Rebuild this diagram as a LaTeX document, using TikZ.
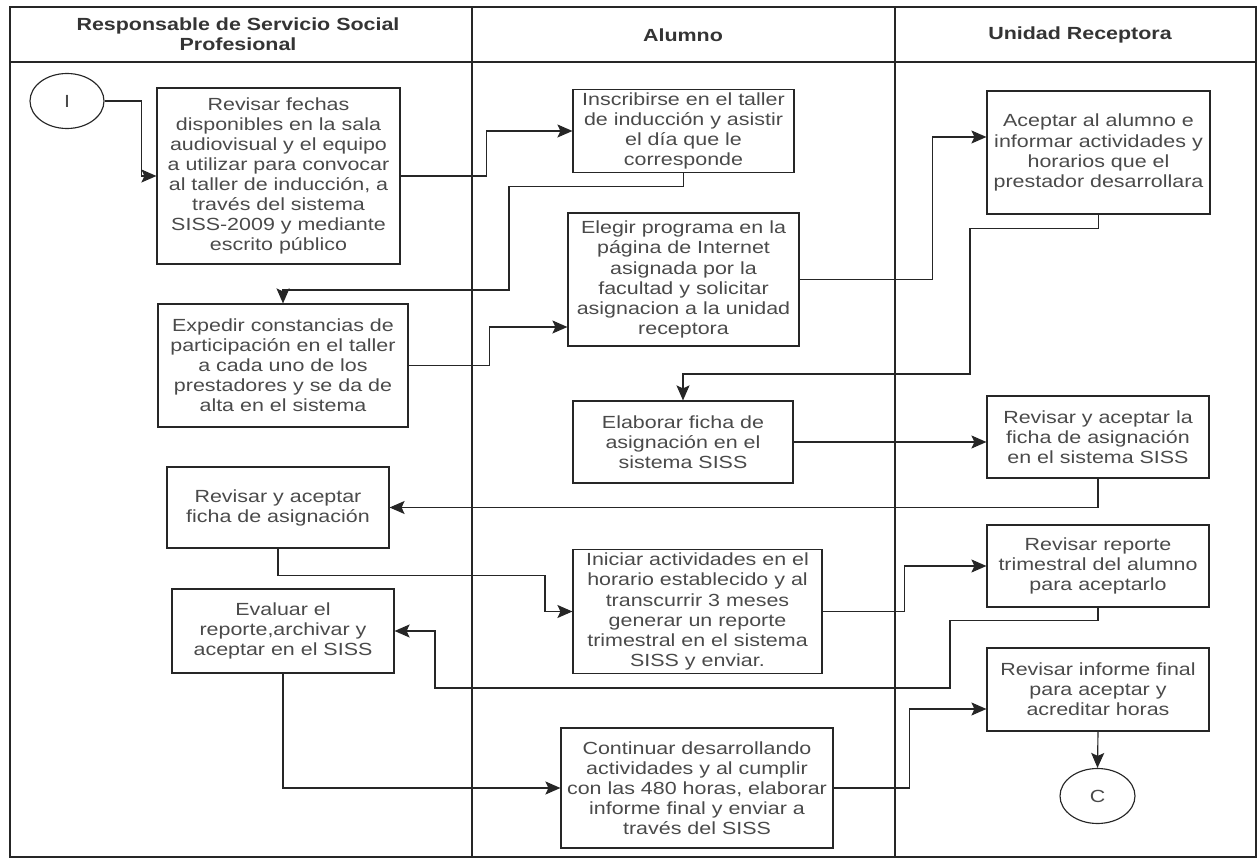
\documentclass[tikz,border=0pt]{standalone}
\usepackage{fontspec}
\setmainfont{Liberation Sans}[FakeStretch=1.22]
\usetikzlibrary{arrows.meta,shapes.geometric}
\definecolor{sspText}{HTML}{4A4A4A}
\definecolor{sspLine}{HTML}{262626}
\tikzset{
  sspBox/.style={draw=sspLine, line width=0.65pt, align=center, text=sspText, font=\fontsize{10}{11.4}\selectfont, inner sep=2pt},
  sspTerminal/.style={draw=sspLine, ellipse, line width=0.65pt, text=sspText, font=\fontsize{10}{11.4}\selectfont, minimum width=15mm, minimum height=11mm, inner sep=0pt},
  sspArrow/.style={-{Stealth[length=3mm,width=2.6mm,inset=0.6mm]}, line width=0.65pt, draw=sspLine},
  sspLane/.style={line width=0.65pt, draw=sspLine},
  sspHeader/.style={align=center, text=sspText!70!black, font=\fontsize{10}{11.4}\selectfont\bfseries}
}

\begin{document}
\begin{tikzpicture}[x=0.2mm, y=-0.2mm]
  \useasboundingbox (0,0) rectangle (1257,859);
  % carriles
  \draw[sspLane] (10,7) rectangle (1256,857);
  \draw[sspLane] (10,62) -- (1256,62);
  \draw[sspLane] (472,7) -- (472,857);
  \draw[sspLane] (895,7) -- (895,857);
  \node[sspHeader] (hResp) at (238,34) {Responsable de Servicio Social\\Profesional};
  \node[sspHeader] (hAlumno) at (683,35) {Alumno};
  \node[sspHeader] (hUnidad) at (1080,35) {Unidad Receptora};

  % nodos
  \node[sspTerminal, minimum width=14.8mm] (inicio) at (67,101) {I};
  \node[sspBox, minimum width=48.6mm, minimum height=35.2mm] (fechas) at (278.5,176) {Revisar fechas\\disponibles en la sala\\audiovisual y el equipo\\a utilizar para convocar\\al taller de inducción, a\\través del sistema\\SISS-2009 y mediante\\escrito público};
  \node[sspBox, minimum width=44.2mm, minimum height=16.4mm] (inscribir) at (683.5,131) {Inscribirse en el taller\\de inducción y asistir\\el día que le\\corresponde};
  \node[sspBox, minimum width=46.2mm, minimum height=26.6mm] (elegir) at (683.5,279.5) {Elegir programa en la\\página de Internet\\asignada por la\\facultad y solicitar\\asignacion a la unidad\\receptora};
  \node[sspBox, minimum width=50mm, minimum height=24.6mm] (expedir) at (283,365.5) {Expedir constancias de\\participación en el taller\\a cada uno de los\\prestadores y se da de\\alta en el sistema};
  \node[sspBox, minimum width=44.6mm, minimum height=24.6mm] (aceptar) at (1098.5,152.5) {Aceptar al alumno e\\informar actividades y\\horarios que el\\prestador desarrollara};
  \node[sspBox, minimum width=44mm, minimum height=16.4mm] (elaborar) at (683,442) {Elaborar ficha de\\asignación en el\\sistema SISS};
  \node[sspBox, minimum width=44.4mm, minimum height=16.4mm] (fichaUR) at (1098,437) {Revisar y aceptar la\\ficha de asignación\\en el sistema SISS};
  \node[sspBox, minimum width=44.4mm, minimum height=16.2mm] (fichaResp) at (278,507.5) {Revisar y aceptar\\ficha de asignación};
  \node[sspBox, minimum width=49.8mm, minimum height=24.6mm] (iniciar) at (697.5,611.5) {Iniciar actividades en el\\horario establecido y al\\transcurrir 3 meses\\generar un reporte\\trimestral en el sistema\\SISS y enviar.};
  \node[sspBox, minimum width=44.4mm, minimum height=16.4mm] (reporte) at (1098,566) {Revisar reporte\\trimestral del alumno\\para aceptarlo};
  \node[sspBox, minimum width=44.4mm, minimum height=16.8mm] (evaluar) at (283,631) {Evaluar el\\reporte,archivar y\\aceptar en el SISS};
  \node[sspBox, minimum width=44.4mm, minimum height=16.6mm] (informe) at (1098,689.5) {Revisar informe final\\para aceptar y\\acreditar horas};
  \node[sspBox, minimum width=54.4mm, minimum height=24mm] (continuar) at (697,788) {Continuar desarrollando\\actividades y al cumplir\\con las 480 horas, elaborar\\informe final y enviar a\\través del SISS};
  \node[sspTerminal] (fin) at (1097.5,796) {C};

  % conectores
  \draw[sspArrow] (inicio.east) -- ++(37,0) |- (fechas.west);
  \draw[sspArrow] (fechas.east) -- ++(86,0) |- (inscribir.west);
  \draw[sspArrow] (inscribir.south) -- ++(0,13) -| (509,290) -| (expedir.north);
  \draw[sspArrow] (expedir.east) -- ++(81,0) |- ([yshift=-9.5mm]elegir.west);
  \draw[sspArrow] (elegir.east) -- ++(133,0) |- ([yshift=3.1mm]aceptar.west);
  \draw[sspArrow] (aceptar.south) -- ++(0,14) -| (970,374) -| (elaborar.north);
  \draw[sspArrow] (elaborar.east) -- (elaborar.east -| fichaUR.west);
  \draw[sspArrow] (fichaUR.south) |- (fichaResp.east);
  \draw[sspArrow] (fichaResp.south) -- ++(0,27) -| (545,611.5) -- (iniciar.west);
  \draw[sspArrow] (iniciar.east) -- ++(82,0) |- (reporte.west);
  \draw[sspArrow] (reporte.south) -- ++(0,13) -| (950,688) -| (435,631) -- (evaluar.east);
  \draw[sspArrow] (evaluar.south) |- (continuar.west);
  \draw[sspArrow] (continuar.east) -- ++(76,0) |- ([yshift=-3.9mm]informe.west);
  \draw[sspArrow] (informe.south) -- (fin.north);
\end{tikzpicture}
\end{document}
